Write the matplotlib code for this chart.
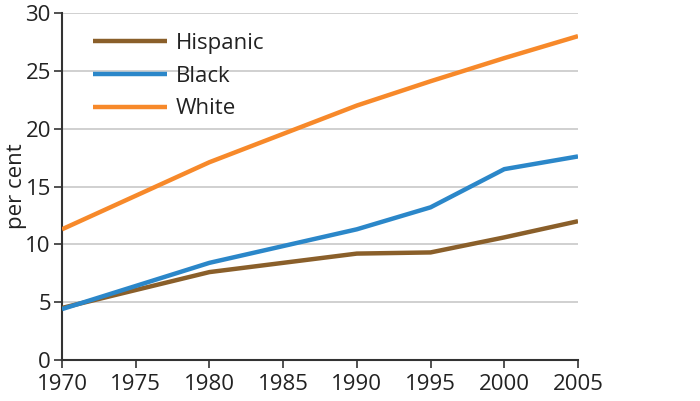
import matplotlib
matplotlib.use("Agg")
import matplotlib.pyplot as plt

years = [1970, 1980, 1990, 1995, 2000, 2005]
hispanic = [4.5, 7.6, 9.2, 9.3, 10.6, 12.0]
black = [4.4, 8.4, 11.3, 13.2, 16.5, 17.6]
white = [11.3, 17.1, 22.0, 24.1, 26.1, 28.0]
series_names = ["Hispanic", "Black", "White"]
colors = ["#8a5f2a", "#2b87c9", "#f7892a"]
xticks = [1970, 1975, 1980, 1985, 1990, 1995, 2000, 2005]
yticks = [0, 5, 10, 15, 20, 25, 30]

plt.rcParams['font.family'] = ['Open Sans', 'DejaVu Sans']
fig = plt.figure(figsize=(7.0, 4.01), dpi=100)
ax = fig.add_axes([62/700, 41/401, (578-62)/700, (360-13)/401])

for vals, name, c in zip([hispanic, black, white], series_names, colors):
    ax.plot(years, vals, color=c, lw=3.2, label=name, solid_capstyle='butt', zorder=3)

ax.set_xlim(1970, 2005)
ax.set_ylim(0, 30)
ax.set_xticks(xticks)
ax.set_yticks(yticks)
ax.tick_params(axis='both', labelsize=16, length=6, width=1.2, color='#333333',
               labelcolor='#222222', direction='out', pad=2)
ax.tick_params(axis='x', pad=4)
ax.grid(axis='y', color='#c8c8c8', lw=1.2, zorder=0)
for s in ['top', 'right']:
    ax.spines[s].set_visible(False)
for s in ['left', 'bottom']:
    ax.spines[s].set_color('#333333')
    ax.spines[s].set_linewidth(1.5)
ax.set_ylabel('per cent', fontsize=16, color='#222222', labelpad=-1.5)
ax.set_axisbelow(True)

leg = ax.legend(loc='upper left', frameon=False, fontsize=16, handlelength=3.3,
                bbox_to_anchor=(0.035, 0.98), labelspacing=0.52, handletextpad=0.4,
                borderaxespad=0.2)
for t in leg.get_texts():
    t.set_color('#222222')

fig.savefig('out.png', dpi=100)
